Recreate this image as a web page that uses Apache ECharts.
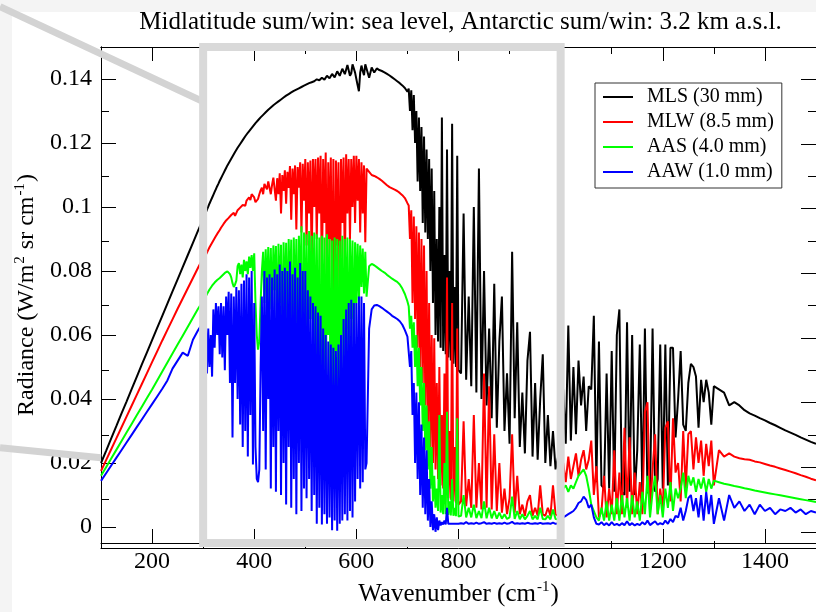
<!DOCTYPE html>
<html>
<head>
<meta charset="utf-8">
<script src="https://cdn.jsdelivr.net/npm/echarts@6/dist/echarts.min.js"></script>
<style>html,body{margin:0;padding:0;background:#fff;}#c{width:816px;height:612px;}</style>
</head>
<body>
<div id="c"></div>
<script>
// Wavenumber sampling (cm^-1)
const wavenumber = [
// 100-300
100,110,120,130,140,150,160,170,180,190,200,210,220,230,240,250,260,270,280,290,300,
// 302.5-620
302.5,305,307.5,310,312.5,315,317.5,320,322.5,325,327.5,330,332.5,335,337.5,340,342.5,345,347.5,350,
352.5,355,357.5,360,362.5,365,367.5,370,372.5,375,377.5,380,382.5,385,387.5,390,392.5,395,397.5,400,
402.5,405,407.5,410,412.5,415,417.5,420,422.5,425,427.5,430,432.5,435,437.5,440,442.5,445,447.5,450,
452.5,455,457.5,460,462.5,465,467.5,470,472.5,475,477.5,480,482.5,485,487.5,490,492.5,495,497.5,500,
502.5,505,507.5,510,512.5,515,517.5,520,522.5,525,527.5,530,532.5,535,537.5,540,542.5,545,547.5,550,
552.5,555,557.5,560,562.5,565,567.5,570,572.5,575,577.5,580,582.5,585,587.5,590,592.5,595,597.5,600,
602.5,605,607.5,610,612.5,615,617.5,620,
// 625-700
625,630,635,640,645,650,655,660,665,670,675,680,685,690,695,700,
// 702.5-800
702.5,705,707.5,710,712.5,715,717.5,720,722.5,725,727.5,730,732.5,735,737.5,740,742.5,745,747.5,750,
752.5,755,757.5,760,762.5,765,767.5,770,772.5,775,777.5,780,782.5,785,787.5,790,792.5,795,797.5,800,
// 805-1000
805,810,815,820,825,830,835,840,845,850,855,860,865,870,875,880,885,890,895,900,
905,910,915,920,925,930,935,940,945,950,955,960,965,970,975,980,985,990,995,1000,
// 1005-1300
1005,1010,1015,1020,1025,1030,1035,1040,1045,1050,1055,1060,1065,1070,1075,1080,1085,1090,1095,1100,
1105,1110,1115,1120,1125,1130,1135,1140,1145,1150,1155,1160,1165,1170,1175,1180,1185,1190,1195,1200,
1205,1210,1215,1220,1225,1230,1235,1240,1245,1250,1255,1260,1265,1270,1275,1280,1285,1290,1295,1300,
// 1310-1500
1310,1320,1330,1340,1350,1360,1370,1380,1390,1400,1410,1420,1430,1440,1450,1460,1470,1480,1490,1500
];

// MLS (30 mm)
const mls = [
0.0200,0.0238,0.0277,0.0315,0.0354,0.0392,0.0431,0.0469,0.0508,0.0546,0.0584,0.0622,0.0660,0.0698,0.0736,0.0774,0.0812,0.0850,0.0888,0.0926,0.0963,
0.0973,0.0982,0.0992,0.1001,0.1011,0.1020,0.1029,0.1038,0.1047,0.1056,0.1065,0.1073,0.1082,0.1090,0.1098,0.1106,0.1114,0.1122,0.1130,0.1137,
0.1144,0.1151,0.1158,0.1165,0.1172,0.1178,0.1185,0.1191,0.1197,0.1203,0.1209,0.1215,0.1221,0.1226,0.1232,0.1237,0.1242,0.1247,0.1252,0.1257,
0.1262,0.1266,0.1271,0.1275,0.1280,0.1284,0.1288,0.1292,0.1296,0.1300,0.1304,0.1307,0.1311,0.1314,0.1318,0.1321,0.1324,0.1327,0.1330,0.1333,
0.1336,0.1339,0.1342,0.1345,0.1348,0.1350,0.1353,0.1355,0.1358,0.1360,0.1363,0.1365,0.1367,0.1369,0.1371,0.1373,0.1375,0.1377,0.1379,0.1381,
0.1383,0.1385,0.1387,0.1388,0.1390,0.1391,0.1393,0.1394,0.1399,0.1402,0.1396,0.1394,0.1404,0.1408,0.1398,0.1400,0.1410,0.1414,0.1402,0.1404,
0.1416,0.1420,0.1405,0.1408,0.1424,0.1428,0.1410,0.1412,0.1432,0.1436,0.1415,0.1420,0.1444,0.1442,0.1410,0.1418,0.1446,0.1445,0.1420,0.1400,
0.1380,0.1362,0.1420,0.1442,0.1425,0.1412,0.1446,0.1440,
0.1404,0.1436,0.1420,0.1433,0.1428,0.1425,0.1421,0.1416,0.1411,0.1405,0.1399,0.1393,0.1387,0.1380,0.1372,0.1360,
0.1370,0.1300,0.1365,0.1240,0.1350,0.1200,0.1300,0.1080,0.1280,0.1050,0.1250,0.0950,0.1220,0.0920,0.1180,0.0900,0.1150,0.0800,0.1120,0.0700,
0.1050,0.0600,0.0900,0.0580,0.1000,0.0560,0.1280,0.0550,0.0850,0.0540,0.1180,0.0530,0.0800,0.0520,0.1260,0.0510,0.0750,0.0500,0.1160,0.0490,
0.048,0.098,0.046,0.072,0.044,0.100,0.042,0.112,0.040,0.080,0.038,0.062,0.034,0.076,0.031,0.058,0.072,0.030,0.048,0.026,
0.086,0.034,0.064,0.025,0.042,0.023,0.052,0.061,0.022,0.045,0.021,0.040,0.054,0.020,0.035,0.019,0.030,0.018,0.022,0.017,
0.043,0.026,0.063,0.027,0.050,0.029,0.052,0.038,0.047,0.030,0.044,0.043,0.066,0.014,0.058,0.013,0.012,0.048,0.012,0.055,
0.011,0.060,0.068,0.011,0.010,0.064,0.011,0.060,0.010,0.024,0.057,0.010,0.062,0.011,0.010,0.062,0.011,0.015,0.057,0.012,
0.057,0.013,0.056,0.056,0.028,0.040,0.055,0.032,0.030,0.045,0.051,0.050,0.047,0.031,0.046,0.039,0.046,0.042,0.032,0.044,
0.043,0.042,0.038,0.039,0.038,0.0365,0.0355,0.0348,0.034,0.0333,0.0325,0.0318,0.031,0.0302,0.0295,0.0288,0.028,0.0273,0.0266,0.026
];

// MLW (8.5 mm)
const mlw = [
0.0175,0.0209,0.0243,0.0277,0.0311,0.0345,0.0379,0.0413,0.0447,0.0481,0.0515,0.0549,0.0583,0.0616,0.0649,0.0682,0.0714,0.0746,0.0778,0.0810,0.0841,
0.0843,0.0850,0.0858,0.0866,0.0874,0.0881,0.0888,0.0895,0.0902,0.0909,0.0916,0.0922,0.0928,0.0935,0.0941,0.0947,0.0952,0.0958,0.0962,0.0966,
0.0971,0.0975,0.0979,0.0982,0.0972,0.0976,0.0990,0.0992,0.0998,0.1000,0.1006,0.1010,0.1004,0.1020,0.1026,0.1030,0.1022,0.1040,0.1035,0.1030,
0.1015,0.1012,0.1025,0.1040,0.1052,0.1060,0.1040,0.1072,0.1066,0.1055,0.1080,0.1085,0.1040,0.1070,0.1092,0.1098,0.1020,0.1090,0.1040,0.1105,
0.0980,0.1100,0.1050,0.1115,0.1010,0.1110,0.1060,0.1128,0.0960,0.1120,0.1040,0.1130,0.0930,0.1125,0.1060,0.1140,0.0920,0.1135,0.1020,0.1150,
0.0880,0.1140,0.0980,0.1145,0.0820,0.1150,0.1000,0.1150,0.0900,0.1155,0.0980,0.1160,0.0760,0.1150,0.0950,0.1170,0.0700,0.1140,0.0900,0.1155,
0.0660,0.1150,0.0540,0.1145,0.0880,0.1140,0.0620,0.1150,0.0950,0.1155,0.0800,0.1165,0.0980,0.1150,0.0900,0.1150,0.1000,0.1160,0.0950,0.1160,
0.1020,0.1150,0.0920,0.1140,0.0980,0.1130,0.0890,0.1120,
0.1110,0.1100,0.1097,0.1093,0.1088,0.1082,0.1075,0.1068,0.1062,0.1058,0.1054,0.1050,0.1044,0.1037,0.1028,0.1012,
0.1005,0.0900,0.0990,0.0700,0.0970,0.0650,0.0940,0.0560,0.0920,0.0500,0.0900,0.0450,0.0880,0.0380,0.0800,0.0300,0.0700,0.0250,0.0600,0.0200,
0.0590,0.0180,0.0450,0.0150,0.0500,0.0130,0.0350,0.0120,0.0480,0.0100,0.0780,0.0090,0.0300,0.0085,0.0700,0.0080,0.0250,0.0075,0.0620,0.0070,
0.0080,0.0330,0.0065,0.0150,0.0060,0.0350,0.0060,0.0200,0.0055,0.0480,0.0060,0.0440,0.0055,0.0290,0.0050,0.0200,0.0045,0.0120,0.0040,0.0090,
0.0290,0.0045,0.0160,0.0040,0.0070,0.0035,0.0080,0.0100,0.0035,0.0060,0.0035,0.0130,0.0040,0.0035,0.0060,0.0035,0.0130,0.0040,0.0035,0.0035,
0.020,0.014,0.022,0.015,0.019,0.023,0.016,0.021,0.024,0.018,0.021,0.027,0.010,0.019,0.003,0.005,0.016,0.003,0.012,0.004,
0.024,0.004,0.017,0.004,0.031,0.006,0.028,0.004,0.017,0.004,0.014,0.004,0.036,0.039,0.005,0.018,0.029,0.004,0.012,0.005,
0.031,0.033,0.008,0.034,0.017,0.020,0.008,0.030,0.012,0.029,0.030,0.018,0.028,0.020,0.027,0.016,0.026,0.019,0.027,0.013,
0.024,0.022,0.023,0.022,0.0215,0.0212,0.021,0.0205,0.0202,0.0197,0.0192,0.0188,0.0183,0.0178,0.0173,0.0168,0.0162,0.0157,0.0151,0.0146
];

// AAS (4.0 mm)
const aas = [
0.0160,0.0187,0.0214,0.0241,0.0268,0.0295,0.0322,0.0349,0.0376,0.0403,0.0430,0.0458,0.0486,0.0514,0.0542,0.0570,0.0598,0.0626,0.0654,0.0682,0.0706,
0.0713,0.0720,0.0728,0.0735,0.0742,0.0748,0.0754,0.0760,0.0764,0.0768,0.0772,0.0775,0.0778,0.0782,0.0786,0.0790,0.0794,0.0797,0.0799,0.0800,
0.0790,0.0780,0.0762,0.0750,0.0758,0.0770,0.0815,0.0825,0.0790,0.0820,0.0780,0.0835,0.0800,0.0830,0.0790,0.0845,0.0810,0.0850,0.0800,0.0855,
0.0700,0.0600,0.0554,0.0580,0.0700,0.0800,0.0860,0.0700,0.0868,0.0720,0.0875,0.0680,0.0872,0.0650,0.0880,0.0740,0.0878,0.0560,0.0885,0.0700,
0.0882,0.0490,0.0890,0.0680,0.0888,0.0600,0.0900,0.0720,0.0898,0.0420,0.0905,0.0650,0.0900,0.0500,0.0910,0.0700,0.0940,0.0300,0.0920,0.0550,
0.0915,0.0470,0.0925,0.0650,0.0910,0.0600,0.0920,0.0450,0.0915,0.0400,0.0905,0.0210,0.0910,0.0500,0.0905,0.0350,0.0915,0.0600,0.0900,0.0180,
0.0895,0.0140,0.0905,0.0550,0.0900,0.0200,0.0895,0.0600,0.0910,0.0450,0.0900,0.0620,0.0905,0.0400,0.0900,0.0650,0.0895,0.0500,0.0890,0.0700,
0.0885,0.0700,0.0880,0.0750,0.0870,0.0730,0.0860,0.0720,
0.0815,0.0822,0.0818,0.0812,0.0806,0.0800,0.0795,0.0788,0.0782,0.0776,0.0771,0.0766,0.0758,0.0745,0.0728,0.0705,
0.0690,0.0620,0.0660,0.0560,0.0640,0.0500,0.0600,0.0440,0.0560,0.0380,0.0500,0.0300,0.0450,0.0240,0.0380,0.0180,0.0330,0.0120,0.0250,0.0080,
0.0160,0.0060,0.0120,0.0050,0.0350,0.0045,0.0100,0.0040,0.0200,0.0040,0.0360,0.0038,0.0080,0.0036,0.0150,0.0035,0.0060,0.0034,0.0340,0.0033,
0.0035,0.0100,0.0030,0.0060,0.0030,0.0070,0.0028,0.0050,0.0028,0.0080,0.0027,0.0060,0.0027,0.0050,0.0026,0.0045,0.0026,0.0040,0.0025,0.0030,
0.0095,0.0025,0.0050,0.0024,0.0040,0.0024,0.0035,0.0050,0.0024,0.0035,0.0024,0.0060,0.0025,0.0024,0.0035,0.0024,0.0055,0.0025,0.0024,0.0024,
0.012,0.013,0.011,0.013,0.012,0.014,0.016,0.017,0.018,0.016,0.012,0.007,0.005,0.003,0.002,0.006,0.002,0.008,0.002,0.007,
0.002,0.009,0.002,0.010,0.003,0.009,0.002,0.010,0.003,0.008,0.002,0.011,0.004,0.016,0.003,0.011,0.016,0.004,0.010,0.003,
0.012,0.006,0.014,0.005,0.012,0.009,0.012,0.017,0.009,0.016,0.013,0.0155,0.011,0.015,0.012,0.0155,0.011,0.015,0.012,0.0145,
0.014,0.0135,0.0132,0.0128,0.0125,0.0121,0.0118,0.0114,0.0111,0.0108,0.0105,0.0102,0.0099,0.0096,0.0093,0.0090,0.0087,0.0084,0.0081,0.0078
];

// AAW (1.0 mm)
const aaw = [
0.0144,0.0168,0.0192,0.0216,0.0240,0.0264,0.0288,0.0312,0.0336,0.0360,0.0384,0.0408,0.0432,0.0458,0.0495,0.0520,0.0545,0.0535,0.0585,0.0615,0.0640,
0.0520,0.0660,0.0480,0.0620,0.0500,0.0600,0.0470,0.0680,0.0560,0.0700,0.0600,0.0690,0.0540,0.0700,0.0530,0.0690,0.0490,0.0720,0.0600,0.0735,
0.0450,0.0730,0.0280,0.0720,0.0450,0.0750,0.0400,0.0740,0.0320,0.0760,0.0250,0.0770,0.0300,0.0790,0.0220,0.0780,0.0350,0.0800,0.0195,0.0700,
0.0250,0.0150,0.0140,0.0180,0.0500,0.0720,0.0300,0.0800,0.0180,0.0780,0.0400,0.0790,0.0120,0.0780,0.0250,0.0805,0.0110,0.0790,0.0300,0.0820,
0.0100,0.0800,0.0200,0.0810,0.0070,0.0800,0.0250,0.0830,0.0060,0.0790,0.0150,0.0810,0.0040,0.0780,0.0200,0.0825,0.0050,0.0800,0.0120,0.0800,
0.0090,0.0740,0.0150,0.0720,0.0050,0.0700,0.0100,0.0690,0.0010,0.0670,0.0060,0.0660,0.0008,0.0620,0.0040,0.0600,0.0010,0.0580,0.0030,0.0570,
-0.0010,0.0560,0.0020,0.0550,-0.0012,0.0570,0.0010,0.0600,0.0020,0.0650,0.0040,0.0680,0.0020,0.0700,0.0050,0.0710,0.0030,0.0700,0.0080,0.0700,
0.0150,0.0720,0.0120,0.0720,0.0140,0.0700,0.0180,0.0200,
0.0620,0.0680,0.0692,0.0694,0.0690,0.0685,0.0679,0.0673,0.0667,0.0660,0.0655,0.0650,0.0643,0.0632,0.0615,0.0595,
0.0590,0.0500,0.0550,0.0350,0.0450,0.0200,0.0420,0.0150,0.0390,0.0100,0.0320,0.0060,0.0280,0.0040,0.0240,0.0020,0.0150,0.0000,0.0080,-0.0010,
0.0040,-0.0015,0.0030,-0.0010,0.0020,0.0005,0.0015,0.0008,0.0020,0.0008,0.0060,0.0010,0.0015,0.0010,0.0014,0.0010,0.0015,0.0010,0.0012,0.0010,
0.0012,0.0010,0.0015,0.0010,0.0012,0.0010,0.0014,0.0010,0.0012,0.0015,0.0010,0.0012,0.0010,0.0013,0.0010,0.0012,0.0010,0.0014,0.0010,0.0012,
0.0016,0.0010,0.0012,0.0010,0.0012,0.0010,0.0013,0.0011,0.0010,0.0012,0.0010,0.0013,0.0010,0.0011,0.0012,0.0010,0.0014,0.0010,0.0011,0.0012,
0.0030,0.0035,0.0040,0.0045,0.0050,0.0060,0.0075,0.0080,0.0095,0.0085,0.0060,0.0070,0.0030,0.0010,0.0008,0.0015,0.0006,0.0012,0.0005,0.0015,
0.0006,0.0010,0.0005,0.0012,0.0006,0.0018,0.0006,0.0012,0.0005,0.0010,0.0006,0.0015,0.0008,0.0020,0.0006,0.0012,0.0018,0.0007,0.0012,0.0008,
0.0020,0.0010,0.0025,0.0015,0.0035,0.0030,0.0060,0.0020,0.0050,0.0090,0.0100,0.0050,0.0090,0.0030,0.0100,0.0020,0.0110,0.0040,0.0100,0.0010,
0.0090,0.0020,0.0100,0.0060,0.0080,0.0050,0.0070,0.0040,0.0070,0.0050,0.0060,0.0040,0.0055,0.0050,0.0060,0.0045,0.0055,0.0040,0.0050,0.0045
];

const seriesNames = ['MLS (30 mm)', 'MLW (8.5 mm)', 'AAS (4.0 mm)', 'AAW (1.0 mm)'];
const seriesColors = ['#000000', '#ff0000', '#00ff00', '#0000ff'];
const xMajorTicks = [200, 400, 600, 800, 1000, 1200, 1400];
const xMinorTicks = [300, 500, 700, 900, 1100, 1300];
const yMajorTicks = [0, 0.02, 0.04, 0.06, 0.08, 0.1, 0.12, 0.14];
const yMinorTicks = [0.01, 0.03, 0.05, 0.07, 0.09, 0.11, 0.13];
const xRange = [100, 1500];
const yRange = [-0.005, 0.15];
const zoomWindow = [300, 1000];

[mls, mlw, aas, aaw].forEach((a, k) => {
  if (a.length !== wavenumber.length) console.error('length mismatch', seriesNames[k], a.length, wavenumber.length);
});

const FONT = 'Liberation Serif, Times New Roman, serif';
const chart = echarts.init(document.getElementById('c'), null, {renderer: 'canvas'});

const gridRect = {left: 101, top: 47, width: 719, height: 501, containLabel: false};
const grids = [0,1,2,3].map(() => Object.assign({}, gridRect));

function xAx(gi, pos, ticks, len, labels, extra) {
  return Object.assign({
    type: 'value', gridIndex: gi, position: pos, min: xRange[0], max: xRange[1],
    axisLine: {show: true, onZero: false, lineStyle: {color: '#000', width: 1}},
    axisTick: {show: true, inside: true, length: len, customValues: ticks, lineStyle: {color: '#000', width: 1}},
    axisLabel: labels ? {show: true, customValues: ticks, fontSize: 24, fontFamily: FONT, color: '#000', margin: 7,
      formatter: v => String(v)} : {show: false},
    splitLine: {show: false}
  }, extra || {});
}
function yAx(gi, pos, ticks, len, labels, extra) {
  return Object.assign({
    type: 'value', gridIndex: gi, position: pos, min: yRange[0], max: yRange[1],
    axisLine: {show: true, onZero: false, lineStyle: {color: '#000', width: 1}},
    axisTick: {show: true, inside: true, length: len, customValues: ticks, lineStyle: {color: '#000', width: 1}},
    axisLabel: labels ? {show: true, customValues: ticks, fontSize: 24, fontFamily: FONT, color: '#000', margin: 9,
      formatter: v => String(parseFloat(Number(v).toFixed(4)))} : {show: false},
    splitLine: {show: false}
  }, extra || {});
}

const option = {
  animation: false,
  backgroundColor: '#ffffff',
  grid: grids,
  xAxis: [
    xAx(0, 'bottom', xMajorTicks, 14, true, {
      name: 'Wavenumber (cm{sup|-1})', nameLocation: 'middle', nameGap: 37,
      nameTextStyle: {fontSize: 25, fontFamily: FONT, color: '#000',
        rich: {sup: {fontSize: 15, fontFamily: FONT, color: '#000', padding: [0, 1, 14, 1]}}}
    }),
    xAx(1, 'top', xMajorTicks, 14, false),
    xAx(2, 'bottom', xMinorTicks, 7, false),
    xAx(3, 'top', xMinorTicks, 7, false)
  ],
  yAxis: [
    yAx(0, 'left', yMajorTicks, 15, true, {
      name: 'Radiance (W/m{sup|2} sr cm{sup|-1})', nameLocation: 'middle', nameGap: 57,
      nameTextStyle: {fontSize: 24, fontFamily: FONT, color: '#000',
        rich: {sup: {fontSize: 15, fontFamily: FONT, color: '#000', padding: [0, 1, 14, 1]}}}
    }),
    yAx(1, 'right', yMajorTicks, 15, false),
    yAx(2, 'left', yMinorTicks, 8, false),
    yAx(3, 'right', yMinorTicks, 8, false)
  ],
  legend: {
    orient: 'vertical', left: 595, top: 83,
    padding: [4, 8, 6, 8], itemGap: 5, itemWidth: 30, itemHeight: 2, icon: 'rect',
    backgroundColor: '#ffffff', borderColor: '#333333', borderWidth: 1,
    textStyle: {fontSize: 20, fontFamily: FONT, color: '#000', lineHeight: 20, padding: [0, 0, 0, 9]},
    data: seriesNames.map((n, k) => ({name: n, icon: 'rect', itemStyle: {color: seriesColors[k]}}))
  },
  series: [mls, mlw, aas, aaw].map((vals, k) => ({
    name: seriesNames[k], type: 'line', xAxisIndex: 0, yAxisIndex: 0,
    data: wavenumber.map((w, i) => [w, vals[i]]),
    showSymbol: false, symbol: 'none', sampling: null,
    lineStyle: {color: seriesColors[k], width: 2}, itemStyle: {color: seriesColors[k]},
    z: 2 + k
  }))
};
chart.setOption(option);

// Zoom-window frame and connector lines, positioned via the axes
const pTL = chart.convertToPixel({gridIndex: 0}, [zoomWindow[0], yRange[1]]);
const pBR = chart.convertToPixel({gridIndex: 0}, [zoomWindow[1], yRange[0]]);
const pLeft = chart.convertToPixel({gridIndex: 0}, [xRange[0], yRange[0]]);
chart.setOption({
  graphic: [
    {type: 'rect', z: 0, silent: true, shape: {x: 0, y: 0, width: 816, height: 12}, style: {fill: '#f4f4f4'}},
    {type: 'rect', z: 0, silent: true, shape: {x: 0, y: 0, width: 12, height: 612}, style: {fill: '#f4f4f4'}},
    {type: 'rect', z: 100, silent: true,
      shape: {x: pTL[0], y: pTL[1], width: pBR[0] - pTL[0], height: pBR[1] - pTL[1]},
      style: {fill: 'none', stroke: '#d9d9d9', lineWidth: 8}},
    {type: 'line', z: 99, silent: true, shape: {x1: 0, y1: 6.6, x2: pTL[0], y2: 101.7},
      style: {stroke: '#d3d3d3', lineWidth: 7}},
    {type: 'line', z: 99, silent: true, shape: {x1: 0, y1: 447.7, x2: pLeft[0], y2: 457.7},
      style: {stroke: '#d3d3d3', lineWidth: 7}},
    {type: 'text', z: 101, silent: true, x: 460.5, y: 22,
      style: {text: 'Midlatitude sum/win: sea level, Antarctic sum/win: 3.2 km a.s.l.',
        font: '25px ' + FONT, fill: '#000', textAlign: 'center', textVerticalAlign: 'middle'}}
  ]
});
</script>
</body>
</html>
